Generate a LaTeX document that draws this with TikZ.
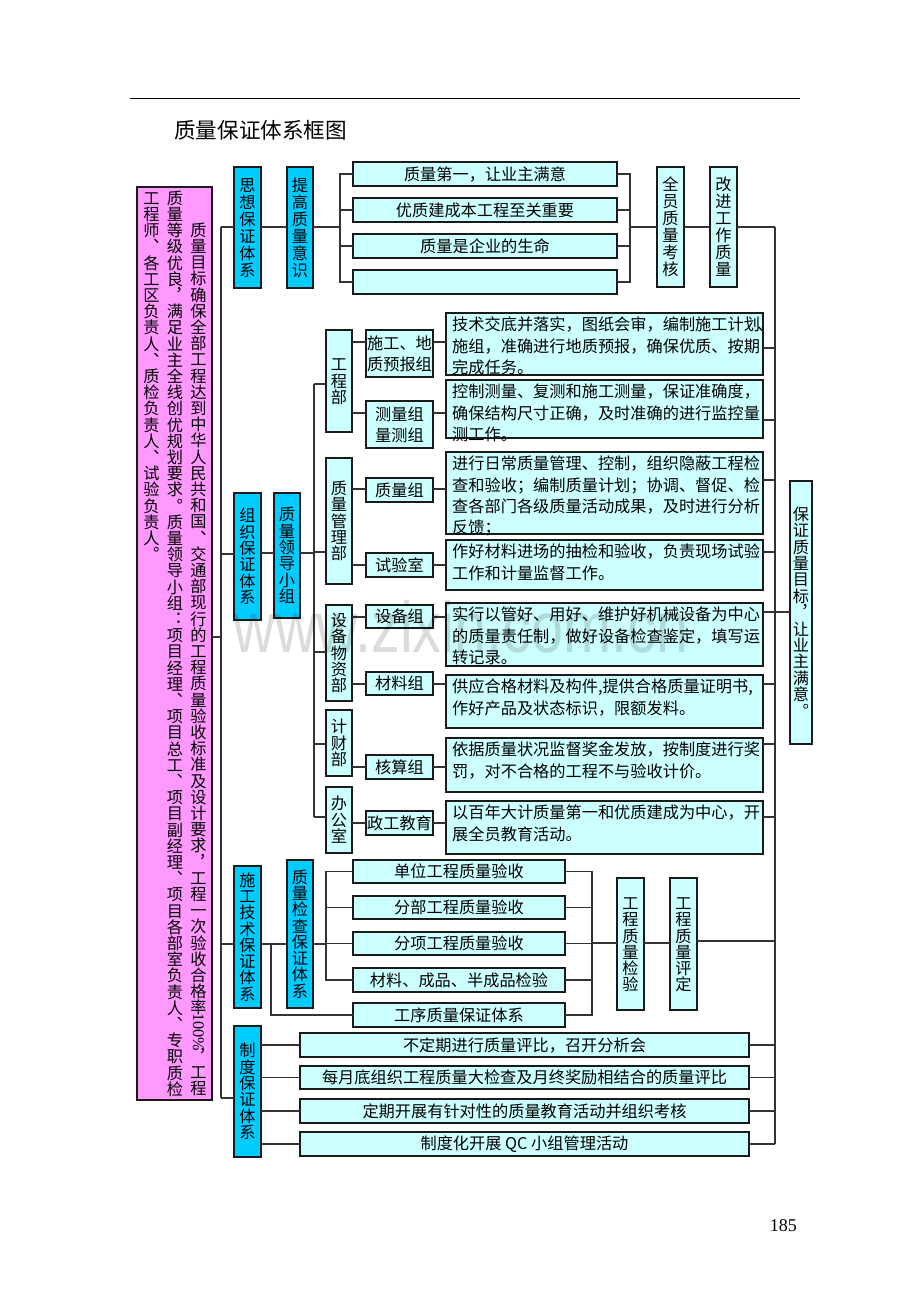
\documentclass[tikz,border=0pt]{standalone}
\usepackage{fontspec}
\usepackage{graphicx}
\setmainfont{Noto Sans CJK SC}
\newfontfamily\vfont[RawFeature=+vert]{Noto Sans CJK SC}
\newfontfamily\latinf{Liberation Serif}
\newfontfamily\wmfont{Liberation Sans}
\definecolor{dcyan}{HTML}{00CCFF}
\definecolor{lcyan}{HTML}{CCFFFF}
\definecolor{pinkb}{HTML}{FF99FF}
\definecolor{edgec}{HTML}{1A1A1A}
\definecolor{wirec}{HTML}{333333}
\makeatletter
\def\vst@end{\vst@end}
\newcommand\vstk[2][16.3pt]{\vbox{\baselineskip=#1\relax\lineskiplimit=0pt\lineskip=0pt\vst@ck#2\vst@end}}
\def\vst@ck#1{\ifx\vst@end#1\else\hbox to 1em{\hss\vrule height .88em depth .12em width 0pt\relax#1\hss}\expandafter\vst@ck\fi}
\makeatother
\newcommand\hundred{\lower.12em\vbox to 2em{\vss\hbox{\rotatebox{-90}{\latinf 100\%}}\vss}}
\newcommand\cstrut{\vrule height .88em depth .12em width 0pt\relax}
\newcommand\mkbox[7]{\node[#2, minimum width={#5-#3}, minimum height={#6-#4}] (#1) at (#3,#4) {#7};}
\newcommand\mktbox[6]{\node[lbox, minimum width={#4-#2}, minimum height={#5-#3}] (#1) at (#2,#3) {};
  \node[anchor=north west, inner sep=0pt, align=left, htext] (#1txt) at ([xshift=6pt,yshift=-3.5pt]#1.north west) {#6};}
\newcommand\hcon[3]{\draw[wire] (#1 |- 0,#3) -- (#2 |- 0,#3);}
\tikzset{
  wire/.style={draw=wirec, line width=1.1pt},
  basebox/.style={draw=edgec, line width=1.2pt, inner sep=0pt, outer sep=0pt, anchor=north west, text=black},
  dbox/.style={basebox, fill=dcyan},
  lbox/.style={basebox, fill=lcyan},
  pbox/.style={basebox, fill=pinkb},
  htext/.style={font=\fontsize{16.2pt}{21.3pt}\selectfont},
  vtext/.style={font=\vfont\fontsize{16.2pt}{16.2pt}\selectfont},
  vcol/.style={anchor=north, inner sep=0pt, outer sep=0pt, font=\vfont\fontsize{16.2pt}{16.2pt}\selectfont},
}
\begin{document}
\begin{tikzpicture}[x=1pt,y=-1pt]
\useasboundingbox[fill=white] (0,0) rectangle (920,1302);

% header rule and title
\draw[line width=1pt, black] (130,98) -- (800,98);
\node[anchor=west, inner sep=0pt, font=\fontsize{21.6pt}{24pt}\selectfont] (title) at (174,130) {质量保证体系框图};
\node[anchor=base east, inner sep=0pt, font=\latinf\fontsize{18pt}{20pt}\selectfont] (pg) at (797,1231) {185};

% pink box
\node[pbox, minimum width=75, minimum height=913] (pink) at (137,187) {};
\node[vcol] (pc1) at (198.5,222) {\vstk[16.2pt]{质量目标确保全部工程达到中华人民共和国、交通部现行的工程质量验收标准及设计要求，工程一次验收合格率\hundred，工程}};
\node[vcol] (pc2) at (175,190) {\vstk[16.2pt]{质量等级优良，满足业主全线创优规划要求。质量领导小组：项目经理、项目总工、项目副经理、项目各部室负责人、专职质检}};
\node[vcol] (pc3) at (151.5,190) {\vstk[16.2pt]{工程师、各工区负责人、质检负责人、试验负责人。}};

% level 1 / level 2 dark cyan boxes
\mkbox{sx}{dbox,vtext}{234}{167}{261}{288}{\vstk[17pt]{思想保证体系}}
\mkbox{zz}{dbox,vtext}{234}{493}{261}{620}{\vstk{组织保证体系}}
\mkbox{sg}{dbox,vtext}{234}{866}{261}{1008}{\vstk{施工技术保证体系}}
\mkbox{zd}{dbox,vtext}{234}{1026}{261}{1157}{\vstk{制度保证体系}}
\mkbox{tg}{dbox,vtext}{287}{167}{313}{288}{\vstk[17pt]{提高质量意识}}
\mkbox{ld}{dbox,vtext}{274}{493}{300}{618}{\vstk{质量领导小组}}
\mkbox{jc}{dbox,vtext}{287}{860}{313}{1008}{\vstk{质量检查保证体系}}

% top section
\mkbox{q1}{lbox,htext}{353}{162}{617}{186}{质量第一，让业主满意}
\mkbox{q2}{lbox,htext}{353}{198}{617}{222}{优质建成本工程至关重要}
\mkbox{q3}{lbox,htext}{353}{234}{617}{258}{质量是企业的生命}
\mkbox{q4}{lbox,htext}{353}{270}{617}{294}{}
\mkbox{qy}{lbox,vtext}{657}{167}{684}{287}{\vstk[17pt]{全员质量考核}}
\mkbox{gj}{lbox,vtext}{710}{167}{737}{287}{\vstk[17pt]{改进工作质量}}
\mkbox{bz}{lbox,vtext}{790}{481}{812}{744}{\vstk[16.4pt]{保证质量目标，让业主满意。}}

% departments
\mkbox{d1}{lbox,vtext}{326}{330}{352}{432}{\vstk{工程部}}
\mkbox{d2}{lbox,vtext}{326}{458}{352}{584}{\vstk{质量管理部}}
\mkbox{d3}{lbox,vtext}{326}{605}{352}{701}{\vstk{设备物资部}}
\mkbox{d4}{lbox,vtext}{326}{710}{352}{776}{\vstk{计财部}}
\mkbox{d5}{lbox,vtext}{326}{787}{352}{853}{\vstk{办公室}}

% groups
\mkbox{g1}{lbox,htext,align=center}{366}{330}{433}{377}{施工、地\\质预报组}
\mkbox{g2}{lbox,htext,align=center}{366}{401}{433}{448}{测量组\\量测组}
\mkbox{g3}{lbox,htext}{366}{478}{433}{502}{质量组}
\mkbox{g4}{lbox,htext}{366}{553}{433}{577}{试验室}
\mkbox{g5}{lbox,htext}{366}{605}{433}{628}{设备组}
\mkbox{g6}{lbox,htext}{366}{672}{433}{695}{材料组}
\mkbox{g7}{lbox,htext}{366}{755}{433}{779}{核算组}
\mkbox{g8}{lbox,htext}{366}{811}{433}{835}{政工教育}

% text boxes
\mktbox{t1}{446}{313}{763}{375}{\cstrut 技术交底并落实，图纸会审，编制施工计划\kern-3pt 、\\\cstrut 施组，准确进行地质预报，确保优质、按期\\\cstrut 完成任务。}
\mktbox{t2}{446}{380}{763}{438}{\cstrut 控制测量、复测和施工测量，保证准确度，\\\cstrut 确保结构尺寸正确，及时准确的进行监控量\\\cstrut 测工作。}
\mktbox{t3}{446}{452}{763}{534}{\cstrut 进行日常质量管理、控制，组织隐蔽工程检\\\cstrut 查和验收；编制质量计划；协调、督促、检\\\cstrut 查各部门各级质量活动成果，及时进行分析\\\cstrut 反馈；}
\mktbox{t4}{446}{540}{763}{590}{\cstrut 作好材料进场的抽检和验收，负责现场试验\\\cstrut 工作和计量监督工作。}
\mktbox{t5}{446}{603}{763}{666}{\cstrut 实行以管好、用好、维护好机械设备为中心\\\cstrut 的质量责任制，做好设备检查鉴定，填写运\\\cstrut 转记录。}
\mktbox{t6}{446}{675}{763}{728}{\cstrut 供应合格材料及构件,提供合格质量证明书,\\\cstrut 作好产品及状态标识，限额发料。}
\mktbox{t7}{446}{738}{763}{792}{\cstrut 依据质量状况监督奖金发放，按制度进行奖\\\cstrut 罚，对不合格的工程不与验收计价。}
\mktbox{t8}{446}{801}{763}{854}{\cstrut 以百年大计质量第一和优质建成为中心，开\\\cstrut 展全员教育活动。}
\draw[draw=edgec, line width=1.2pt] (t1.south west) -- (t1.south east);
\draw[draw=edgec, line width=1.2pt] (t2.south west) -- (t2.south east);

% construction section
\mkbox{c1}{lbox,htext}{353}{860}{565}{883}{单位工程质量验收}
\mkbox{c2}{lbox,htext}{353}{896}{565}{919}{分部工程质量验收}
\mkbox{c3}{lbox,htext}{353}{932}{565}{955}{分项工程质量验收}
\mkbox{c4}{lbox,htext}{353}{968}{565}{992}{材料、成品、半成品检验}
\mkbox{c5}{lbox,htext}{353}{1003}{565}{1027}{工序质量保证体系}
\mkbox{jy}{lbox,vtext}{617}{878}{644}{1010}{\vstk{工程质量检验}}
\mkbox{pd}{lbox,vtext}{670}{878}{697}{1010}{\vstk{工程质量评定}}

% institution section
\mkbox{r1}{lbox,htext}{300}{1033}{749}{1057}{不定期进行质量评比，召开分析会}
\mkbox{r2}{lbox,htext}{300}{1066}{749}{1089}{每月底组织工程质量大检查及月终奖励相结合的质量评比}
\mkbox{r3}{lbox,htext}{300}{1099}{749}{1123}{定期开展有针对性的质量教育活动并组织考核}
\mkbox{r4}{lbox,htext}{300}{1132}{749}{1156}{制度化开展 QC 小组管理活动}

% ---------- connectors ----------
\coordinate (LB1) at (221,227);
\coordinate (LB2) at (221,1098);
\coordinate (RB1) at (775,227);
\coordinate (RB2) at (775,1144);
\draw[wire] (LB1) -- (LB2);
\draw[wire] (RB1) -- (RB2);
\hcon{LB1}{sx.west}{227}
\hcon{LB1}{zz.west}{554}
\hcon{LB1}{sg.west}{944}
\hcon{LB1}{zd.west}{1098}
\hcon{pink.east}{LB1}{637}

% top section
\hcon{sx.east}{tg.west}{227}
\coordinate (TB) at (340,227);
\coordinate (TC) at (630,227);
\hcon{tg.east}{TB}{227}
\foreach \q in {q1,q2,q3,q4} {\draw[wire] (\q.west) -| (TB); \draw[wire] (\q.east) -| (TC);}
\hcon{TC}{qy.west}{227}
\hcon{qy.east}{gj.west}{227}
\hcon{gj.east}{RB1}{227}

% organisation section
\coordinate (OB1) at (314,384);
\coordinate (OB2) at (314,817);
\draw[wire] (OB1) -- (OB2);
\hcon{zz.east}{ld.west}{553}
\hcon{ld.east}{OB1}{553}
\hcon{OB1}{d1.west}{384}
\hcon{OB1}{d2.west}{552}
\hcon{OB1}{d3.west}{652}
\hcon{OB1}{d4.west}{744}
\hcon{OB1}{d5.west}{817}
\hcon{d1.east}{g1.west}{342}
\hcon{d1.east}{g2.west}{413}
\hcon{d2.east}{g3.west}{489}
\hcon{d2.east}{g4.west}{565}
\hcon{d3.east}{g5.west}{617}
\hcon{d3.east}{g6.west}{684}
\hcon{d4.east}{g7.west}{767}
\hcon{d5.east}{g8.west}{823}
\hcon{g1.east}{t1.west}{342}
\hcon{g2.east}{t2.west}{413}
\hcon{g3.east}{t3.west}{489}
\hcon{g4.east}{t4.west}{565}
\hcon{g5.east}{t5.west}{617}
\hcon{g6.east}{t6.west}{684}
\hcon{g7.east}{t7.west}{767}
\hcon{g8.east}{t8.west}{823}
\hcon{t1.east}{RB1}{348}
\hcon{t2.east}{RB1}{420}
\hcon{t3.east}{RB1}{480}
\hcon{t4.east}{RB1}{552}
\hcon{t5.east}{RB1}{612}
\hcon{t6.east}{RB1}{684}
\hcon{t7.east}{RB1}{744}
\hcon{t8.east}{RB1}{817}
\hcon{RB1}{bz.west}{612}

% construction section
\hcon{sg.east}{jc.west}{944}
\coordinate (SJ) at (271,944);
\draw[wire] (SJ) |- (c5.west);
\coordinate (CB) at (326,944);
\coordinate (CR) at (592,943);
\hcon{jc.east}{CB}{944}
\foreach \c in {c1,c2,c3,c4} {\draw[wire] (\c.west) -| (CB);}
\foreach \c in {c1,c2,c3,c4,c5} {\draw[wire] (\c.east) -| (CR);}
\hcon{CR}{jy.west}{943}
\hcon{jy.east}{pd.west}{943}
\hcon{pd.east}{RB1}{941}

% institution section
\foreach \r in {r1,r2,r3,r4} {\draw[wire] (zd.east |- \r.west) -- (\r.west); \draw[wire] (\r.east) -- (RB1 |- \r.east);}

% watermark
\node[anchor=base, inner sep=0pt, text=black, opacity=0.14, xscale=0.8, font=\wmfont\fontsize{72pt}{72pt}\selectfont] (wm) at (461,652) {www.zixin.com.cn};
\end{tikzpicture}
\end{document}
